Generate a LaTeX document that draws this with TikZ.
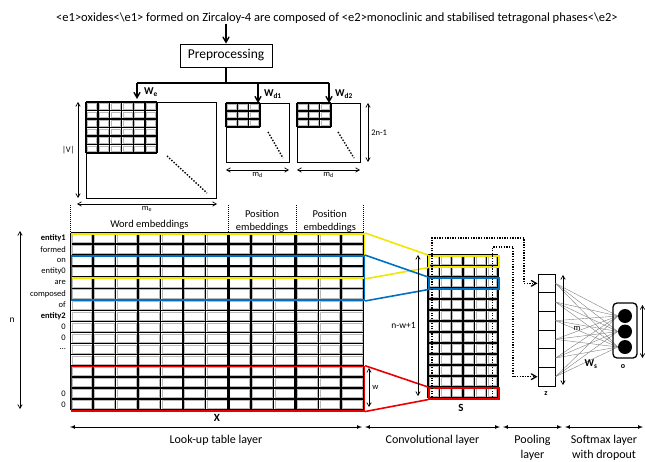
\documentclass[tikz,border=0pt]{standalone}
\usepackage{fontspec}
\setmainfont{Carlito}
\usepackage{xcolor}
\usetikzlibrary{arrows,positioning}
\definecolor{winyellow}{RGB}{240,230,0}
\definecolor{winblue}{RGB}{0,112,192}
\definecolor{winred}{RGB}{235,0,0}

\begin{document}
\begin{tikzpicture}[x=1pt,y=-1pt,
        gridline/.style={line width=1.5pt},
        cellinset/.style={draw=gray!55, line width=0.5pt},
        dimarrow/.style={<->,>=angle 60, line width=0.7pt},
        downarrow/.style={->,>=angle 60, line width=1.4pt},
        maxpath/.style={line width=1.3pt, dash pattern=on 1.3pt off 1.3pt},
        diagdots/.style={line width=1.4pt, dash pattern=on 1.4pt off 1.6pt},
        sepline/.style={line width=0.6pt, dash pattern=on 1pt off 1pt},
        wordlbl/.style={font=\fontsize{8.5}{9}\selectfont, anchor=east, inner sep=0pt},
        smalllbl/.style={font=\fontsize{8.5}{9}\selectfont, inner sep=0pt},
        textlbl/.style={font=\fontsize{10.5}{13}\selectfont, align=center, inner sep=0pt},
        layerlbl/.style={font=\fontsize{12}{14.5}\selectfont, align=center, inner sep=0pt, anchor=north},
        winbox/.style={line width=1.6pt, minimum width=293pt, minimum height=44.24pt, inner sep=0pt, anchor=north west},
        swinbox/.style={line width=1.6pt, minimum width=70pt, minimum height=11pt, inner sep=0pt, anchor=north west},
        poolcell/.style={draw, line width=1pt, minimum width=17pt, minimum height=18.67pt, inner sep=0pt},
        outunit/.style={circle, fill=black, minimum size=14pt, inner sep=0pt}]
          \useasboundingbox (0,0) rectangle (645,461);

          %sentence and preprocessing
          \node[textlbl, font=\fontsize{12.5}{14}\selectfont] (sent) at (337,18) {<e1>oxides<\textbackslash e1> formed on Zircaloy-4 are composed of <e2>monoclinic and stabilised tetragonal phases<\textbackslash e2>};
          \node[draw, line width=0.8pt, minimum width=92pt, minimum height=23pt, font=\fontsize{13.5}{15}\selectfont] (prep) at (226,55.5) {Preprocessing};
          \draw[downarrow] (sent.south -| prep.north) -- (prep.north);
          \draw[line width=1.4pt] (prep.south) -- ++(0,15.5) coordinate (split);
          \draw[line width=1.4pt] (137,83) -- (328.5,83);

          %draw lookup matrices
          \node[draw, line width=1pt, minimum width=130pt, minimum height=96pt, inner sep=0pt, anchor=north west] (matE) at (86,102) {};
          \node[draw, line width=1pt, minimum width=63pt, minimum height=59pt, inner sep=0pt, anchor=north west] (matD1) at (226,103) {};
          \node[draw, line width=1pt, minimum width=63pt, minimum height=59pt, inner sep=0pt, anchor=north west] (matD2) at (297,103) {};
          \draw[downarrow] (137,83) -- (137,99) node[right=3pt, pos=0.55, font=\fontsize{10.5}{12}\selectfont\bfseries] (labWe) {W\textsubscript{e}};
          \draw[downarrow] (matD1.north |- split) -- (matD1.north) node[right=2pt, pos=0.55, font=\fontsize{10.5}{12}\selectfont\bfseries] (labWd1) {W\textsubscript{d1}};
          \draw[downarrow] (matD2.north |- split) -- (matD2.north) node[right=2pt, pos=0.55, font=\fontsize{10.5}{12}\selectfont\bfseries] (labWd2) {W\textsubscript{d2}};

          %cells of all matrices
          \foreach \bx/\by/\nc/\nr/\cw/\ch in {86/102/6/6/11.83/8.5, 226/103/3/3/11.3/8, 297/103/3/3/11.3/8, 70.5/233/13/16/22.54/11.06, 428/255/6/13/11.67/11}{
            \foreach \c in {1,...,\nc}
              \foreach \r in {1,...,\nr}
                \draw[cellinset] (\bx+\c*\cw-\cw+1.4, \by+\r*\ch-\ch+1.4) rectangle (\bx+\c*\cw-1.4, \by+\r*\ch-1.4);
            \foreach \c in {0,...,\nc}
              \draw[gridline] (\bx+\c*\cw, \by) -- (\bx+\c*\cw, \by+\nr*\ch);
            \foreach \r in {0,...,\nr}
              \draw[gridline] (\bx, \by+\r*\ch) -- (\bx+\nc*\cw, \by+\r*\ch);
          }
          \draw[diagdots] (167,156) -- (207,193);
          \draw[diagdots] (268,132) -- (283,158);
          \draw[diagdots] (338,132) -- (354,158);

          %dimensions of lookup matrices
          \draw[dimarrow] (78,102) -- (78,198) node[midway, left=3pt, smalllbl] (labV) {|V|};
          \draw[dimarrow] (77,204) -- (217,204) node[midway, below=2pt, smalllbl] (labme) {m\textsubscript{e}};
          \draw[dimarrow] (226,170) -- (289,170) node[midway, below=2pt, smalllbl] (labmd1) {m\textsubscript{d}};
          \draw[dimarrow] (297,170) -- (360,170) node[midway, below=2pt, smalllbl] (labmd2) {m\textsubscript{d}};
          \draw[dimarrow] (368,103) -- (368,162) node[midway, right=3pt, smalllbl] (labn2) {2n-1};

          %separators and headings of X
          \foreach \sx in {70.5,228.3,295.9,363.5}
            \draw[sepline] (\sx,205) -- (\sx,232);
          \node[textlbl] (headW) at (149.4,225) {Word embeddings};
          \node[textlbl] (headP1) at (262.1,221) {Position\\embeddings};
          \node[textlbl] (headP2) at (329.7,221) {Position\\embeddings};
          \draw[line width=3pt] (228.3,233) -- (228.3,410);
          \draw[line width=3pt] (295.9,233) -- (295.9,410);

          %words of the sentence
          \foreach \w [count=\r] in {\textbf{entity1},formed,on,entity0,are,composed,of,\textbf{entity2},0,0}
            \node[wordlbl] (word\r) at (66,227.5+\r*11.06) {\w};
          \node[wordlbl] (word11) at (66,349.2) {\dots};
          \node[wordlbl] (word15) at (66,393.4) {0};
          \node[wordlbl] (word16) at (66,404.5) {0};
          \draw[dimarrow] (20,231) -- (20,409) node[midway, left=5pt, font=\fontsize{9.5}{10}\selectfont, inner sep=0pt] (labn) {n};
          \node[font=\fontsize{11}{12}\selectfont\bfseries] (labX) at (217,418) {X};

          %convolution windows
          \node[winbox, draw=winyellow] (winY) at (70.5,233) {};
          \node[winbox, draw=winblue] (winB) at (70.5,255.1) {};
          \node[winbox, draw=winred] (winR) at (70.5,365.7) {};
          \node[swinbox, draw=winyellow] (sY) at (428,255) {};
          \node[swinbox, draw=winblue] (sB) at (428,277) {};
          \node[swinbox, draw=winred] (sR) at (428,387) {};
          \draw[line width=1.6pt, winyellow] (winY.north east) -- (sY.north west);
          \draw[line width=1.6pt, winyellow] (winY.south east) -- (sY.south west);
          \draw[line width=1.6pt, winblue] (winB.north east) -- (sB.north west);
          \draw[line width=1.6pt, winblue] (winB.south east) -- (sB.south west);
          \draw[line width=1.6pt, winred] (winR.north east) -- (sR.north west);
          \draw[line width=1.6pt, winred] (winR.south east) -- (sR.south west);
          \draw[dimarrow] (369,368) -- (369,407) node[midway, right=3pt, smalllbl] (labw) {w};
          \draw[dimarrow] (418,255) -- (418,396) node[midway, left=2pt, font=\fontsize{9.5}{10}\selectfont, inner sep=0pt] (labnw) {n-w+1};
          \node[font=\fontsize{11}{12}\selectfont\bfseries] (labS) at (461,408) {S};

          %max pooling
          \foreach \i in {1,...,6}
            \node[poolcell] (z\i) at (546.5,274+\i*18.67-9.33) {};
          \draw[maxpath,->,>=angle 60] (432,397) |- (524,238) |- (z1.west);
          \draw[maxpath,->,>=angle 60] (492.5,397) |- (513,247) |- (z6.west);
          \node[font=\fontsize{8}{9}\selectfont\bfseries] (labz) at (546,394) {z};

          %softmax layer
          \foreach \j/\oy in {1/316,2/331.5,3/347}
            \node[outunit] (o\j) at (625,\oy) {};
          \foreach \i in {1,...,6}
            \foreach \j in {1,2,3}
              \draw[gray, line width=0.4pt] (z\i.east) -- (o\j.west);
          \node[draw, line width=1.3pt, rounded corners=4pt, minimum width=24pt, minimum height=55pt] (obox) at (625,330.5) {};
          \draw[dimarrow] (563,275) -- (563,385);
          \node[smalllbl] (labm) at (577,328) {m};
          \node[font=\fontsize{10.5}{12}\selectfont\bfseries] (labWs) at (591,364) {W\textsubscript{s}};
          \node[font=\fontsize{8}{9}\selectfont\bfseries] (labo) at (623,367) {o};
          \draw[dimarrow] (642.5,305) -- (642.5,358);

          %layers
          \draw[<->,>=latex, line width=0.7pt] (70,427) -- (362,427) node[midway, below=8pt, layerlbl] (layL) {Look-up table layer};
          \draw[<->,>=latex, line width=0.7pt] (365,427) -- (500,427) node[midway, below=8pt, layerlbl] (layC) {Convolutional layer};
          \draw[<->,>=latex, line width=0.7pt] (503,427) -- (562,427) node[midway, below=8pt, layerlbl] (layP) {Pooling\\layer};
          \draw[<->,>=latex, line width=0.7pt] (565,427) -- (643,427) node[midway, below=8pt, layerlbl] (layS) {Softmax layer\\with dropout};
    \end{tikzpicture}
\end{document}
